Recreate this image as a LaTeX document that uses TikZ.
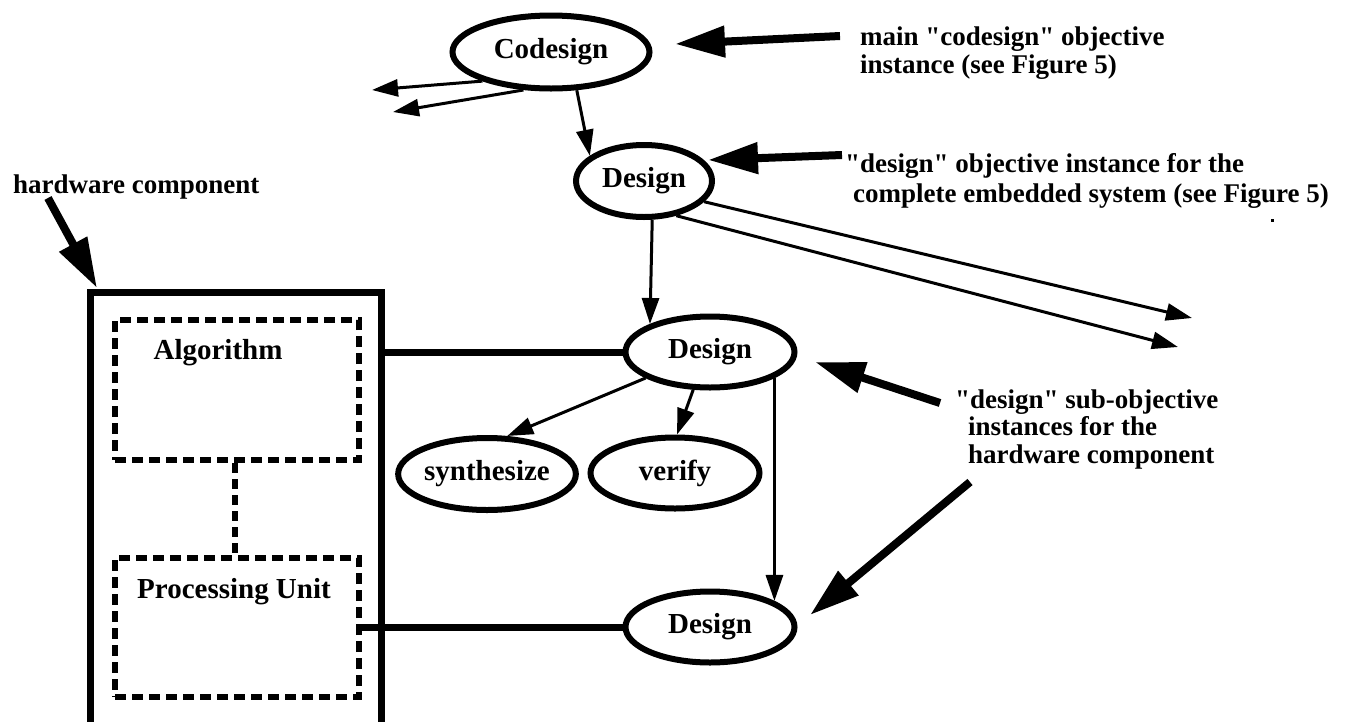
\documentclass[tikz,border=0pt]{standalone}
\usepackage{fontspec}
\setmainfont{Liberation Serif}[Ligatures=TeXOff]
\usetikzlibrary{shapes.geometric,arrows.meta}
\newcommand\labfont{\fontsize{29}{31}\selectfont\bfseries}
\newcommand\notefont{\fontsize{27}{30}\selectfont\bfseries}
\tikzset{
  ell/.style={ellipse, draw, line width=6pt, inner sep=0pt, font=\labfont},
  edge/.style={line width=3pt, -{Triangle[length=26pt,width=17pt]}},
  pointer/.style={line width=8pt, -{Triangle[length=50pt,width=30pt]}},
  link/.style={line width=7pt},
  part/.style={draw, line width=6pt, dash pattern=on 11pt off 6pt,
               minimum width=244pt, minimum height=140pt, inner sep=0pt},
  note/.style={anchor=base west, inner sep=0pt, font=\notefont},
  lab/.style={inner sep=0pt, font=\labfont},
}
\begin{document}
\begin{tikzpicture}[x=1pt,y=-1pt]
\useasboundingbox (0,0) rectangle (1345,721);
\clip (0,0) rectangle (1345,721);

% objective instances
\node[ell, minimum width=197pt, minimum height=73pt] (cod) at (551,52) {Codesign};
\node[ell, minimum width=136pt, minimum height=72pt] (d2) at (644,181) {Design};
\node[ell, minimum width=169pt, minimum height=71pt] (d3) at (710,352) {Design};
\node[ell, minimum width=171pt, minimum height=72pt] (syn) at (487,474) {synthesize};
\node[ell, minimum width=169pt, minimum height=71pt] (ver) at (675,473) {verify};
\node[ell, minimum width=169pt, minimum height=71pt] (d4) at (710,627) {Design};

% hardware component with its parts
\node[draw, line width=7pt, minimum width=291pt, minimum height=447pt, inner sep=0pt] (hw) at (236,516) {};
\node[part] (alg) at (237,390) {};
\node[part, minimum height=139pt] (pu) at (237,627.5) {};
\node[lab] (algl) at (218,353) {Algorithm};
\node[lab] (pul) at (234,592) {Processing Unit};
\draw[line width=6pt, dash pattern=on 10pt off 6pt] ([xshift=-2pt]alg.south) -- ([xshift=-2pt]pu.north);

% links between parts and objectives
\draw[link] (d3.west -| hw.east) -- (d3.west);
\draw[link] (d4.west -| pu.east) -- (d4.west);

% objective hierarchy
\coordinate (lA) at (372,90);
\coordinate (lB) at (393,112);
\coordinate (rA) at (1192,318);
\coordinate (rB) at (1178,347);
\draw[edge] (cod.203) -- (lA);
\draw[edge] (cod.234) -- (lB);
\draw[edge] (cod.-56) -- (d2.155);
\draw[edge] (d2.-19) -- (rA);
\draw[edge] (d2.-47) -- (rB);
\draw[edge] (d2.-78) -- (d3.155);
\draw[edge] (d3.202) -- (syn.62);
\draw[edge] (d3.246) -- (ver.87);
\draw[edge] (d3.-22) -- (d4.22);

% annotations
\node[note] (n1a) at (860,45) {main "codesign" objective};
\node[note] (n1b) at (860,73) {instance (see Figure 5)};
\node[note] (n2a) at (845,172) {"design" objective instance for the};
\node[note] (n2b) at (853,202) {complete embedded system (see Figure 5)};
\node[note] (n3) at (13,193) {hardware component};
\node[note] (n4a) at (955,408) {"design" sub-objective};
\node[note] (n4b) at (968,435) {instances for the};
\node[note] (n4c) at (968,463) {hardware component};
\fill (1270.5,218.5) rectangle (1273.5,221.5);

\coordinate (pA1) at (840,36);  \coordinate (pA2) at (675,44);
\coordinate (pB1) at (842,155); \coordinate (pB2) at (708,160);
\coordinate (pC1) at (48,198);  \coordinate (pC2) at (97,288);
\coordinate (pD1) at (940,403); \coordinate (pD2) at (815,362);
\coordinate (pE1) at (970,482); \coordinate (pE2) at (810,615);
\draw[pointer] (pA1) -- (pA2);
\draw[pointer] (pB1) -- (pB2);
\draw[pointer] (pC1) -- (pC2);
\draw[pointer] (pD1) -- (pD2);
\draw[pointer] (pE1) -- (pE2);
\end{tikzpicture}
\end{document}
